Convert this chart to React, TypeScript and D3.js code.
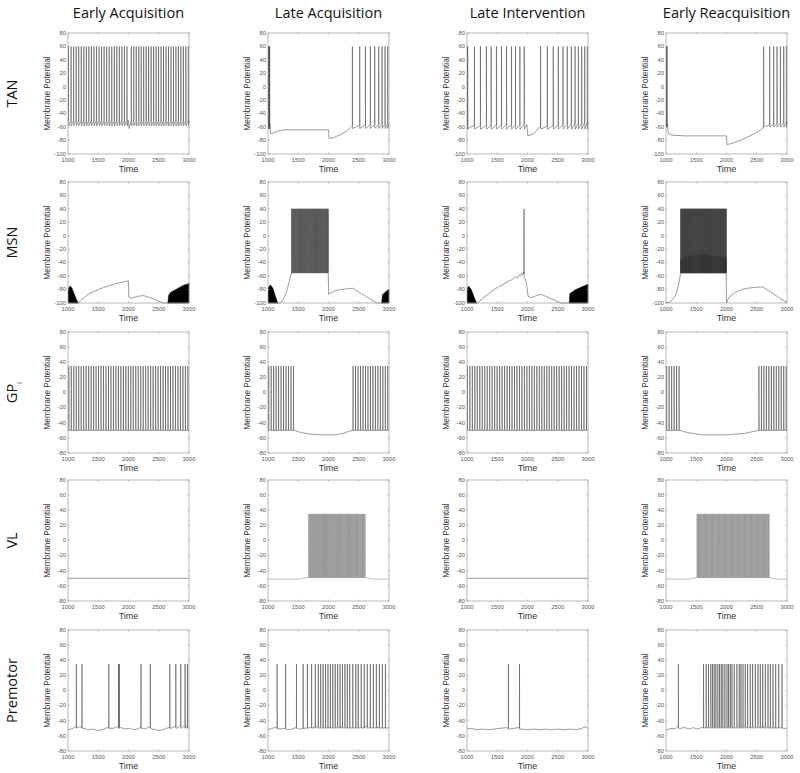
import React from "react";
import * as d3 from "d3";

// ---------- labels ----------
const columnTitles = ["Early Acquisition", "Late Acquisition", "Late Intervention", "Early Reacquisition"];
const rowTitles = ["TAN", "MSN", "GP", "VL", "Premotor"];
const rowSubscripts = ["", "", "i", "", ""];
const xTicks = [1000, 1500, 2000, 2500, 3000];
const yDomainTanMsn = [-100, 80];
const yDomainOther = [-80, 80];
const yTicksTanMsn = [-100, -80, -60, -40, -20, 0, 20, 40, 60, 80];
const yTicksOther = [-80, -60, -40, -20, 0, 20, 40, 60, 80];

// ---------- TAN ----------
const tan1Base = [[1000, -50], [1995, -50], [2010, -62], [2040, -52], [3000, -50]];
const tan1Spikes = [1008, 1050, 1092, 1134, 1176, 1218, 1260, 1302, 1344, 1386, 1428, 1470, 1512, 1554, 1596, 1638, 1680, 1722, 1764, 1806, 1848, 1890, 1932, 1974, 2045, 2086, 2127, 2168, 2209, 2250, 2291, 2332, 2373, 2414, 2455, 2496, 2537, 2578, 2619, 2660, 2701, 2742, 2783, 2824, 2865, 2906, 2947, 2988];

const tan2Base = [[1000, -50], [1030, -55], [1045, -70], [1100, -68], [1200, -65], [1300, -64], [2000, -64], [2010, -77], [2100, -75], [2200, -71], [2300, -66], [2390, -58], [3000, -55]];
const tan2Spikes = [1002, 1006, 1010, 1014, 1018, 1022, 1026, 2394, 2515, 2609, 2691, 2763, 2829, 2884, 2934, 2978];

const tan3Base = [[1000, -55], [1020, -62], [1100, -58], [1990, -56], [2005, -73], [2100, -70], [2200, -60], [3000, -52]];
const tan3Spikes = [1002, 1006, 1010, 1122, 1221, 1320, 1398, 1486, 1569, 1652, 1735, 1801, 1873, 1945, 2215, 2326, 2425, 2508, 2586, 2657, 2724, 2785, 2840, 2895, 2945, 2989];

const tan4Base = [[1000, -50], [1018, -55], [1040, -70], [1100, -72], [1300, -73], [2000, -73], [2008, -86], [2100, -84], [2300, -77], [2500, -68], [2600, -62], [2610, -58], [3000, -52]];
const tan4Spikes = [1002, 1005, 1008, 1011, 1014, 2613, 2713, 2779, 2834, 2890, 2945, 2989];

// ---------- MSN ----------
const msn1Base = [[1000, -100], [1170, -100], [1250, -93], [1350, -86], [1500, -80], [1650, -75], [1800, -71], [1950, -68], [2000, -67], [2005, -91], [2050, -93], [2150, -90], [2250, -89], [2350, -92], [2450, -95], [2580, -100], [3000, -100]];
const msn1Dense = [[1000, -100, -79], [1030, -100, -75], [1060, -100, -77], [1100, -100, -86], [1150, -100, -97], [1170, -100, -100]];
const msn1Dense2 = [[2650, -100, -100], [2665, -100, -88], [2700, -100, -84], [2800, -100, -79], [2900, -100, -74], [3000, -100, -71]];

const msn2Base = [[1000, -100], [1200, -100], [1250, -95], [1300, -85], [1340, -72], [1370, -62], [1390, -55], [1995, -55], [2003, -87], [2100, -82], [2200, -80], [2300, -79], [2400, -78], [2500, -84], [2600, -89], [2700, -95], [2800, -100], [3000, -100]];
const msn2Dense = [[1000, -100, -78], [1040, -100, -73], [1080, -100, -78], [1130, -100, -92], [1160, -100, -100]];
const msn2Dense2 = [[2880, -100, -100], [2890, -100, -88], [2950, -100, -83], [3000, -100, -80]];
const msn2Burst = [[1390, -55, 40], [1995, -55, 40]];
const msn2Spikes = [1392, 1410, 1428, 1446, 1463, 1481, 1499, 1517, 1534, 1552, 1570, 1588, 1605, 1623, 1641, 1659, 1676, 1694, 1712, 1730, 1747, 1765, 1783, 1801, 1818, 1836, 1854, 1872, 1889, 1907, 1925, 1943, 1960, 1978, 1993];

const msn3Base = [[1000, -100], [1160, -100], [1200, -98], [1300, -90], [1400, -83], [1500, -77], [1600, -72], [1700, -67], [1750, -65], [1800, -61], [1830, -63], [1860, -58], [1880, -60], [1900, -56], [1920, -58], [1938, -54], [1950, -62], [1970, -66], [1990, -75], [2010, -90], [2060, -92], [2150, -89], [2220, -87], [2300, -90], [2400, -94], [2550, -100], [3000, -100]];
const msn3Dense = [[1000, -100, -78], [1030, -100, -75], [1070, -100, -80], [1120, -100, -92], [1160, -100, -100]];
const msn3Dense2 = [[2690, -100, -100], [2700, -100, -86], [2800, -100, -80], [2900, -100, -76], [3000, -100, -72]];
const msn3Spikes = [1942];

const msn4Base = [[1000, -100], [1050, -99], [1100, -96], [1150, -90], [1190, -80], [1220, -67], [1243, -55], [1995, -55], [2000, -100], [2020, -95], [2060, -90], [2150, -84], [2250, -80], [2350, -78], [2450, -77], [2600, -76], [2700, -82], [2800, -88], [2900, -94], [3000, -99]];
const msn4Burst = [[1243, -55, 40], [1995, -55, 40]];
const msn4BurstCore = [[1243, -55, -35], [1400, -55, -30], [1600, -55, -27], [1800, -55, -30], [1995, -55, -33]];
const msn4Spikes = [1245, 1262, 1280, 1297, 1314, 1332, 1349, 1366, 1384, 1401, 1418, 1436, 1453, 1470, 1488, 1505, 1522, 1540, 1557, 1574, 1592, 1609, 1626, 1644, 1661, 1678, 1696, 1713, 1730, 1748, 1765, 1782, 1800, 1817, 1834, 1852, 1869, 1886, 1904, 1921, 1938, 1956, 1973, 1993];

// ---------- GPi ----------
const gpi1Base = [[1000, -50], [3000, -50]];
const gpi1Spikes = [1012, 1053, 1094, 1135, 1176, 1217, 1258, 1299, 1340, 1381, 1422, 1463, 1504, 1545, 1586, 1627, 1668, 1709, 1750, 1791, 1832, 1873, 1914, 1955, 1996, 2037, 2078, 2119, 2160, 2201, 2242, 2283, 2324, 2365, 2406, 2447, 2488, 2529, 2570, 2611, 2652, 2693, 2734, 2775, 2816, 2857, 2898, 2939, 2980];

const gpi2Base = [[1000, -50], [1430, -50], [1550, -53], [1700, -55], [1900, -56], [2100, -56], [2250, -54], [2350, -51], [2400, -50], [3000, -50]];
const gpi2Spikes = [1010, 1051, 1092, 1133, 1174, 1215, 1256, 1297, 1338, 1379, 1420, 2405, 2446, 2487, 2528, 2569, 2610, 2651, 2692, 2733, 2774, 2815, 2856, 2897, 2938, 2979];

const gpi3Base = [[1000, -50], [3000, -50]];
const gpi3Spikes = [1005, 1046, 1087, 1128, 1169, 1210, 1251, 1292, 1333, 1374, 1415, 1456, 1497, 1538, 1579, 1620, 1661, 1702, 1743, 1784, 1825, 1866, 1907, 1948, 1989, 2030, 2071, 2112, 2153, 2194, 2235, 2276, 2317, 2358, 2399, 2440, 2481, 2522, 2563, 2604, 2645, 2686, 2727, 2768, 2809, 2850, 2891, 2932, 2973];

const gpi4Base = [[1000, -50], [1230, -50], [1350, -53], [1600, -56], [2000, -56], [2300, -54], [2480, -51], [2530, -50], [3000, -50]];
const gpi4Spikes = [1010, 1051, 1092, 1133, 1174, 1215, 2535, 2576, 2617, 2658, 2699, 2740, 2781, 2822, 2863, 2904, 2945, 2986];

// ---------- VL ----------
const vl1Base = [[1000, -50], [3000, -50]];
const vl2Base = [[1000, -51], [1500, -51], [1650, -49], [1672, -49], [2610, -49], [2650, -50], [2750, -51], [3000, -51]];
const vl2Burst = [[1672, -49, 35], [2610, -49, 35]];
const vl2Spikes = [1675, 1692, 1710, 1725, 1741, 1760, 1776, 1793, 1810, 1828, 1845, 1861, 1880, 1897, 1915, 1932, 1950, 1968, 1985, 2003, 2020, 2038, 2056, 2073, 2091, 2110, 2128, 2146, 2163, 2181, 2200, 2218, 2236, 2254, 2273, 2291, 2310, 2328, 2347, 2365, 2384, 2403, 2422, 2441, 2460, 2480, 2499, 2519, 2538, 2558, 2578, 2600];
const vl3Base = [[1000, -50], [3000, -50]];
const vl4Base = [[1000, -51], [1400, -51], [1500, -49], [1512, -49], [2702, -49], [2750, -50], [2850, -51], [3000, -51]];
const vl4Burst = [[1512, -49, 35], [2702, -49, 35]];
const vl4Spikes = [1515, 1535, 1554, 1574, 1593, 1613, 1632, 1652, 1671, 1691, 1710, 1730, 1749, 1769, 1788, 1808, 1827, 1847, 1866, 1886, 1905, 1925, 1944, 1964, 1983, 2003, 2022, 2042, 2061, 2081, 2100, 2120, 2139, 2159, 2178, 2198, 2217, 2237, 2256, 2276, 2295, 2315, 2334, 2354, 2373, 2393, 2412, 2432, 2451, 2471, 2490, 2510, 2529, 2549, 2568, 2588, 2607, 2627, 2646, 2666, 2685, 2700];

// ---------- Premotor ----------
const pm1Base = [[1000, -52], [1040, -51], [1080, -50], [1120, -48], [1150, -49], [1200, -48], [1250, -50], [1300, -51], [1350, -52], [1400, -51], [1450, -52], [1500, -53], [1550, -52], [1600, -51], [1650, -49], [1690, -50], [1750, -50], [1800, -48], [1870, -49], [1950, -51], [2000, -50], [2050, -51], [2100, -52], [2150, -51], [2190, -49], [2250, -50], [2300, -50], [2340, -48], [2400, -51], [2450, -52], [2500, -53], [2550, -52], [2600, -51], [2660, -49], [2700, -50], [2760, -48], [2820, -49], [2850, -47], [2900, -48], [2950, -48], [3000, -49]];
const pm1Spikes = [1137, 1230, 1674, 1833, 1849, 2205, 2359, 2682, 2781, 2863, 2934, 2973];

const pm2Base = [[1000, -52], [1060, -50], [1120, -49], [1200, -51], [1260, -50], [1320, -52], [1400, -51], [1460, -49], [1520, -51], [1600, -50], [1700, -49], [1800, -48], [2000, -49], [2200, -48], [2400, -49], [2600, -48], [2800, -49], [3000, -49]];
const pm2Spikes = [1150, 1290, 1470, 1580, 1650, 1720, 1780, 1830, 1870, 1910, 1950, 1990, 2030, 2070, 2110, 2150, 2190, 2230, 2270, 2310, 2350, 2400, 2450, 2490, 2540, 2590, 2640, 2690, 2740, 2790, 2840, 2890, 2940];

const pm3Base = [[1000, -51], [1080, -50], [1150, -52], [1250, -51], [1350, -52], [1450, -51], [1550, -50], [1650, -49], [1700, -51], [1780, -50], [1850, -49], [1900, -51], [2000, -52], [2100, -51], [2200, -52], [2300, -51], [2400, -52], [2500, -51], [2600, -52], [2700, -51], [2800, -52], [2900, -50], [2950, -48], [3000, -50]];
const pm3Spikes = [1683, 1867];

const pm4Base = [[1000, -52], [1050, -51], [1100, -50], [1150, -51], [1190, -48], [1250, -50], [1300, -49], [1350, -50], [1400, -51], [1450, -49], [1500, -51], [1550, -50], [1600, -49], [1700, -48], [2000, -48], [2300, -48], [2600, -48], [2900, -49], [3000, -50]];
const pm4Spikes = [1204, 1619, 1663, 1702, 1740, 1768, 1796, 1823, 1856, 1884, 1912, 1939, 1972, 2006, 2033, 2061, 2088, 2127, 2171, 2210, 2238, 2271, 2309, 2348, 2392, 2431, 2475, 2519, 2558, 2597, 2641, 2685, 2724, 2768, 2812, 2862, 2917];

// ---------- panel table ----------
type Env = number[][];
interface Panel {
  base: number[][];
  spikes: number[];
  peak: number;
  trough: number;
  envs: { data: Env; fill: string }[];
  stroke?: string;
}

const rowsPanels: Panel[][] = [
  [
    { base: tan1Base, spikes: tan1Spikes, peak: 60, trough: -58, envs: [] },
    { base: tan2Base, spikes: tan2Spikes, peak: 60, trough: -62, envs: [] },
    { base: tan3Base, spikes: tan3Spikes, peak: 60, trough: -63, envs: [] },
    { base: tan4Base, spikes: tan4Spikes, peak: 60, trough: -60, envs: [] },
  ],
  [
    { base: msn1Base, spikes: [], peak: 40, trough: -55, envs: [{ data: msn1Dense, fill: "#000" }, { data: msn1Dense2, fill: "#000" }] },
    { base: msn2Base, spikes: msn2Spikes, peak: 40, trough: -55, envs: [{ data: msn2Dense, fill: "#000" }, { data: msn2Dense2, fill: "#000" }, { data: msn2Burst, fill: "#8c8c8c" }] },
    { base: msn3Base, spikes: msn3Spikes, peak: 40, trough: -62, envs: [{ data: msn3Dense, fill: "#000" }, { data: msn3Dense2, fill: "#000" }] },
    { base: msn4Base, spikes: msn4Spikes, peak: 40, trough: -55, envs: [{ data: msn4Burst, fill: "#3c3c3c" }, { data: msn4BurstCore, fill: "#0a0a0a" }] },
  ],
  [
    { base: gpi1Base, spikes: gpi1Spikes, peak: 35, trough: -50, envs: [] },
    { base: gpi2Base, spikes: gpi2Spikes, peak: 35, trough: -50, envs: [] },
    { base: gpi3Base, spikes: gpi3Spikes, peak: 35, trough: -50, envs: [] },
    { base: gpi4Base, spikes: gpi4Spikes, peak: 35, trough: -50, envs: [] },
  ],
  [
    { base: vl1Base, spikes: [], peak: 35, trough: -49, envs: [] },
    { base: vl2Base, spikes: vl2Spikes, peak: 35, trough: -49, envs: [{ data: vl2Burst, fill: "#cfcfcf" }], stroke: "#8a8a8a" },
    { base: vl3Base, spikes: [], peak: 35, trough: -49, envs: [] },
    { base: vl4Base, spikes: vl4Spikes, peak: 35, trough: -49, envs: [{ data: vl4Burst, fill: "#cfcfcf" }], stroke: "#8a8a8a" },
  ],
  [
    { base: pm1Base, spikes: pm1Spikes, peak: 35, trough: -50, envs: [] },
    { base: pm2Base, spikes: pm2Spikes, peak: 35, trough: -50, envs: [] },
    { base: pm3Base, spikes: pm3Spikes, peak: 35, trough: -51, envs: [] },
    { base: pm4Base, spikes: pm4Spikes, peak: 35, trough: -50, envs: [] },
  ],
];

// ---------- layout ----------
const colLeft = [68, 268, 467, 666];
const rowTop = [33, 182, 332, 480, 630];
const plotW = 121;
const plotH = 121;
const FONT = "'Liberation Sans', Arial, sans-serif";
const TITLE_FONT = "'Open Sans', 'Noto Sans', sans-serif";

function tracePoints(p: Panel): number[][] {
  const bs = d3.scaleLinear().domain(p.base.map((d) => d[0])).range(p.base.map((d) => d[1])).clamp(true);
  const ev: { t: number; s: boolean }[] = [
    ...p.base.map((d) => ({ t: d[0], s: false })),
    ...p.spikes.map((t) => ({ t, s: true })),
  ].sort((a, b) => a.t - b.t || (a.s ? 1 : -1));
  const pts: number[][] = [];
  ev.forEach((e) => {
    if (e.s) {
      pts.push([e.t, bs(e.t)], [e.t + 1, p.peak], [e.t + 3, p.trough]);
    } else {
      pts.push([e.t, bs(e.t)]);
    }
  });
  return pts;
}

function PanelView({ p, left, top, yDomain, yTicks }: { p: Panel; left: number; top: number; yDomain: number[]; yTicks: number[] }) {
  const x = d3.scaleLinear().domain([1000, 3000]).range([left, left + plotW]);
  const y = d3.scaleLinear().domain(yDomain).range([top + plotH, top]);
  const line = d3.line<number[]>().x((d) => x(d[0])).y((d) => y(d[1]));
  const area = d3.area<number[]>().x((d) => x(d[0])).y0((d) => y(d[1])).y1((d) => y(d[2]));
  const pts = tracePoints(p);
  const clipId = `clip-${left}-${top}`;
  return (
    <g>
      <clipPath id={clipId}>
        <rect x={left} y={top - 1} width={plotW + 1} height={plotH + 2} />
      </clipPath>
      <g clipPath={`url(#${clipId})`}>
        {p.envs.map((e, i) => (
          <path key={i} d={area(e.data) || ""} fill={e.fill} stroke={e.fill} strokeWidth={0.5} />
        ))}
        <path d={line(pts) || ""} fill="none" stroke={p.stroke || "#4a4a4a"} strokeWidth={0.55} />
      </g>
      <rect x={left} y={top} width={plotW} height={plotH} fill="none" stroke="#9a9a9a" strokeWidth={0.7} />
      {xTicks.map((t) => (
        <g key={"x" + t}>
          <line x1={x(t)} x2={x(t)} y1={top + plotH} y2={top + plotH - 1.5} stroke="#9a9a9a" strokeWidth={0.6} />
          <line x1={x(t)} x2={x(t)} y1={top} y2={top + 1.5} stroke="#9a9a9a" strokeWidth={0.6} />
          <text x={x(t)} y={top + plotH + 8.3} fontSize={5.8} fill="#555" textAnchor="middle" fontFamily={FONT}>{t}</text>
        </g>
      ))}
      {yTicks.map((t) => (
        <g key={"y" + t}>
          <line x1={left} x2={left + 1.5} y1={y(t)} y2={y(t)} stroke="#9a9a9a" strokeWidth={0.6} />
          <line x1={left + plotW} x2={left + plotW - 1.5} y1={y(t)} y2={y(t)} stroke="#9a9a9a" strokeWidth={0.6} />
          <text x={left - 2} y={y(t) + 1.8} fontSize={5.8} fill="#555" textAnchor="end" fontFamily={FONT}>{t}</text>
        </g>
      ))}
      <text x={left + plotW / 2} y={top + plotH + 18} fontSize={9} fill="#333" textAnchor="middle" fontFamily={FONT}>Time</text>
      <text transform={`translate(${left - 18},${top + plotH / 2}) rotate(-90)`} fontSize={8.3} fill="#333" textAnchor="middle" fontFamily={FONT}>Membrane Potential</text>
    </g>
  );
}

export default function App() {
  return (
    <svg width={800} height={773} style={{ position: "absolute", left: 0, top: 0, background: "#fff" }} xmlns="http://www.w3.org/2000/svg">
      <rect x={0} y={0} width={800} height={773} fill="#fff" />
      {columnTitles.map((c, i) => (
        <text key={c} x={colLeft[i] + plotW / 2} y={18} fontSize={14.5} fill="#111" textAnchor="middle" fontFamily={TITLE_FONT}>{c}</text>
      ))}
      {rowTitles.map((r, i) => (
        <text key={r} transform={`translate(${17},${rowTop[i] + plotH / 2}) rotate(-90)`} fontSize={14.5} fill="#111" textAnchor="middle" fontFamily={TITLE_FONT}>
          {r}
          {rowSubscripts[i] ? <tspan dy={5} fontSize={8}>{rowSubscripts[i]}</tspan> : null}
        </text>
      ))}
      {rowsPanels.map((row, ri) =>
        row.map((p, ci) => (
          <PanelView
            key={ri + "-" + ci}
            p={p}
            left={colLeft[ci]}
            top={rowTop[ri]}
            yDomain={ri < 2 ? yDomainTanMsn : yDomainOther}
            yTicks={ri < 2 ? yTicksTanMsn : yTicksOther}
          />
        ))
      )}
    </svg>
  );
}
